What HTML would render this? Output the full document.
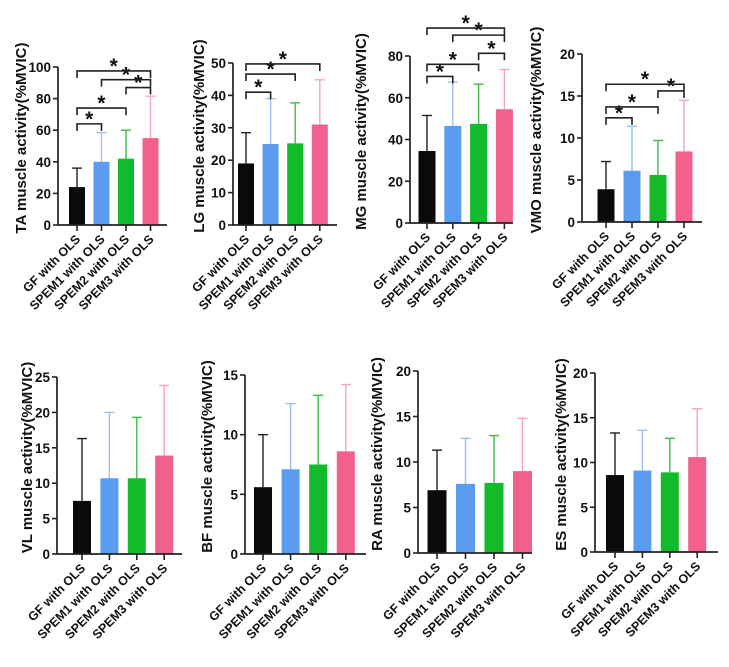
<!DOCTYPE html>
<html><head><meta charset="utf-8"><style>
html,body{margin:0;padding:0;background:#fff;}
svg{display:block;font-family:"Liberation Sans",Arial,sans-serif;font-weight:bold;}
</style></head><body>
<svg id="fig" width="729" height="667" viewBox="0 0 729 667" xmlns="http://www.w3.org/2000/svg"></svg>
<script>
const categories = ["GF with OLS","SPEM1 with OLS","SPEM2 with OLS","SPEM3 with OLS"];
const taMeans = [24, 40, 42, 55];      const taSD = [36, 58.5, 60, 81.5];
const lgMeans = [19, 25, 25.2, 31];    const lgSD = [28.5, 39, 37.7, 44.8];
const mgMeans = [34.5, 46.5, 47.5, 54.5]; const mgSD = [51.5, 67.5, 66.5, 73.5];
const vmoMeans = [3.9, 6.1, 5.6, 8.4]; const vmoSD = [7.2, 11.4, 9.7, 14.5];
const vlMeans = [7.5, 10.7, 10.7, 13.9]; const vlSD = [16.3, 20, 19.3, 23.8];
const bfMeans = [5.6, 7.1, 7.5, 8.6];  const bfSD = [10, 12.6, 13.3, 14.2];
const raMeans = [6.9, 7.6, 7.7, 9.0];  const raSD = [11.3, 12.6, 12.9, 14.8];
const esMeans = [8.6, 9.1, 8.9, 10.6]; const esSD = [13.3, 13.6, 12.7, 16];
const taTicks = [0,20,40,60,80,100];
const lgTicks = [0,10,20,30,40,50];
const mgTicks = [0,20,40,60,80];
const vmoTicks = [0,5,10,15,20];
const vlTicks = [0,5,10,15,20,25];
const bfTicks = [0,5,10,15];
const raTicks = [0,5,10,15,20];
const esTicks = [0,5,10,15,20];
// significance brackets: [fromIndex, toIndex, level in data units]
const taSig = [[0,1,64],[0,2,74],[2,3,87],[1,3,92],[0,3,97.5]];
const lgSig = [[0,1,41],[0,2,46.6],[0,3,49.7]];
const mgSig = [[0,1,70.2],[0,2,76],[2,3,81.3],[1,3,90],[0,3,93.4]];
const vmoSig = [[0,1,12.4],[0,2,13.7],[2,3,15.6],[0,3,16.4]];

const barColors = ["#0a0a0a","#5a9cf0","#12bb2a","#f2608e"];
const errColors = ["#222","#9cc2f2","#3cbb4a","#f3a6bd"];
const NS = "http://www.w3.org/2000/svg";
const svg = document.getElementById("fig");
function mk(tag, attrs, parent){const e=document.createElementNS(NS,tag);for(const k in attrs)e.setAttribute(k,attrs[k]);(parent||svg).appendChild(e);return e;}

function panel(p){
  const g = mk("g",{});
  
  
  const ymax = p.ticks[p.ticks.length-1];
  const y = v => p.y0 - (v/ymax)*(p.y0-p.yTop);
  const x = i => p.c0 + i*p.step;
  p.means.forEach((m,i)=>{
    const cx=x(i);
    const el=mk("line",{x1:cx,x2:cx,y1:y(m),y2:y(p.sd[i]),stroke:errColors[i],"stroke-width":1.4},g);
    
    
    const cap=mk("line",{x1:cx-5,x2:cx+5,y1:y(p.sd[i]),y2:y(p.sd[i]),stroke:errColors[i],"stroke-width":1.4},g);
    
    
    const b=mk("rect",{x:cx-p.bw/2,y:y(m),width:p.bw,height:p.y0-y(m),fill:barColors[i]},g);
    
    
    const t=mk("line",{x1:cx,x2:cx,y1:p.y0,y2:p.y0+6,stroke:"#222","stroke-width":1.6},g);
    
    
    const lb=mk("text",{x:cx+4,y:p.y0+15,"text-anchor":"end","font-size":12.5,fill:"#111",transform:`rotate(-45 ${cx+4} ${p.y0+15})`},g);
    lb.textContent=categories[i];
    
    
  });
  const ya=mk("line",{x1:p.ax,x2:p.ax,y1:p.yTop,y2:p.y0,stroke:"#222","stroke-width":1.7},g);
  
  
  const xa=mk("line",{x1:p.ax,x2:p.xEnd,y1:p.y0,y2:p.y0,stroke:"#222","stroke-width":1.7},g);
  
  
  p.ticks.forEach(v=>{
    const tk=mk("line",{x1:p.ax-5,x2:p.ax,y1:y(v),y2:y(v),stroke:"#222","stroke-width":1.6},g);
    
    
    const tl=mk("text",{x:p.ax-7,y:y(v)+5,"text-anchor":"end","font-size":13.5,fill:"#111"},g);
    tl.textContent=v;
    
    
  });
  const ty=(p.yTop+p.y0)/2-8;
  const tt=mk("text",{x:p.tx,y:ty,"text-anchor":"middle","font-size":15,fill:"#111",transform:`rotate(-90 ${p.tx} ${ty})`},g);
  tt.textContent=p.title;
  
  
  (p.sig||[]).forEach(s=>{
    const x1=x(s[0]),x2=x(s[1]),yy=y(s[2]);
    const br=mk("path",{d:`M${x1} ${yy+7}V${yy}H${x2}V${yy+7}`,fill:"none",stroke:"#222","stroke-width":1.6},g);
    
    
    const st=mk("text",{x:(x1+x2)/2,y:yy+2,"text-anchor":"middle","font-size":21,fill:"#111"},g);
    st.textContent="*";
    
    
  });
}
panel({id:"ta",title:"TA muscle activity(%MVIC)",means:taMeans,sd:taSD,ticks:taTicks,sig:taSig,ax:58,yTop:67,y0:225,xEnd:167,c0:77,step:24.5,bw:16,tx:26});
panel({id:"lg",title:"LG muscle activity(%MVIC)",means:lgMeans,sd:lgSD,ticks:lgTicks,sig:lgSig,ax:233,yTop:63,y0:225,xEnd:337,c0:246,step:24.6,bw:16,tx:204});
panel({id:"mg",title:"MG muscle activity(%MVIC)",means:mgMeans,sd:mgSD,ticks:mgTicks,sig:mgSig,ax:410,yTop:56,y0:223,xEnd:513,c0:427,step:25.8,bw:17,tx:366});
panel({id:"vmo",title:"VMO muscle activity(%MVIC)",means:vmoMeans,sd:vmoSD,ticks:vmoTicks,sig:vmoSig,ax:582,yTop:54,y0:222,xEnd:702,c0:606,step:26,bw:17,tx:541});
panel({id:"vl",title:"VL muscle activity(%MVIC)",means:vlMeans,sd:vlSD,ticks:vlTicks,ax:57,yTop:377,y0:554,xEnd:182,c0:82,step:27.4,bw:18,tx:32});
panel({id:"bf",title:"BF muscle activity(%MVIC)",means:bfMeans,sd:bfSD,ticks:bfTicks,ax:245,yTop:375,y0:554,xEnd:366,c0:263,step:27.6,bw:18,tx:212});
panel({id:"ra",title:"RA muscle activity(%MVIC)",means:raMeans,sd:raSD,ticks:raTicks,ax:418,yTop:371,y0:553,xEnd:532,c0:437,step:28.5,bw:19,tx:382});
panel({id:"es",title:"ES muscle activity(%MVIC)",means:esMeans,sd:esSD,ticks:esTicks,ax:595,yTop:373,y0:552,xEnd:718,c0:615,step:27.4,bw:18,tx:566});
</script>
</body></html>
